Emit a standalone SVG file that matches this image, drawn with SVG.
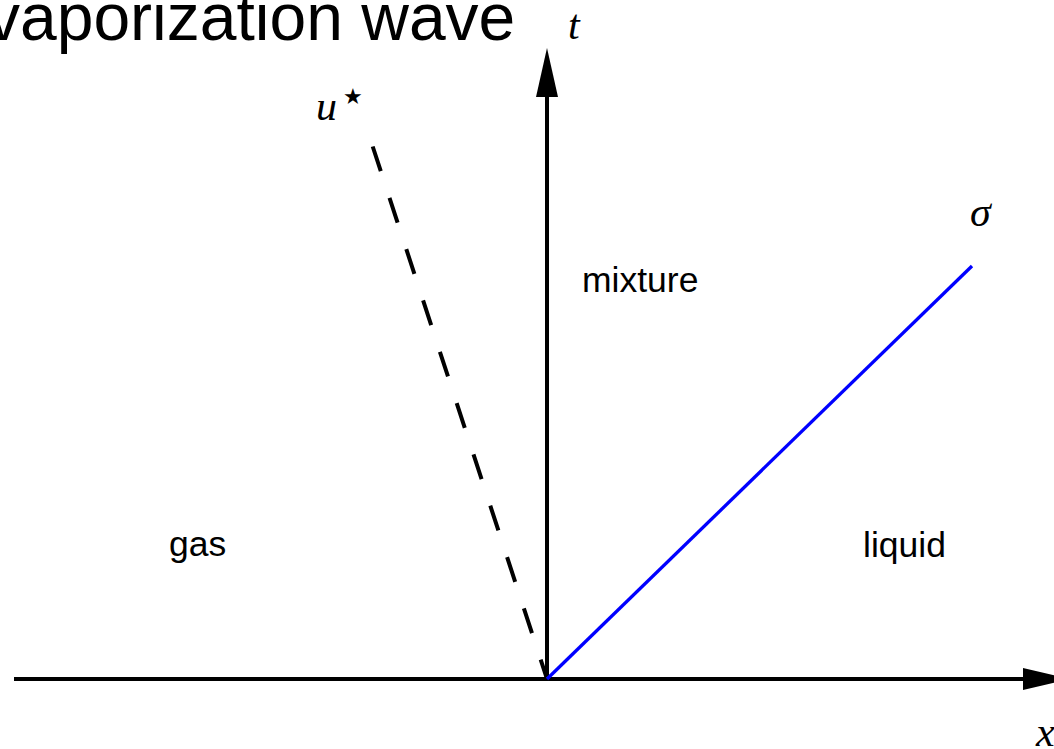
<svg xmlns="http://www.w3.org/2000/svg" width="1054" height="749" viewBox="0 0 1054 749">
<style>
.lbl{font-family:"Liberation Sans",Arial,sans-serif;font-size:35.5px;fill:#000}
.math{font-family:"Liberation Serif","Times New Roman",serif;font-style:italic;font-size:42px;fill:#000}
.ax{stroke:#000;stroke-width:4;fill:none}
</style>
<rect width="1054" height="749" fill="#fff"/>
<text x="-13" y="40" font-family="Liberation Sans, Arial, sans-serif" font-size="66" fill="#000">vaporization wave</text>
<g id="axes">
<line class="ax" x1="14" y1="679" x2="1025" y2="679"/>
<polygon points="1023,668 1023,690 1070,679" fill="#000"/>
<line class="ax" x1="547" y1="679" x2="547" y2="95"/>
<polygon points="536,97 558,97 547,48" fill="#000"/>
</g>
<g id="connectors">
<line x1="372.7" y1="146.5" x2="547" y2="679" stroke="#000" stroke-width="4" stroke-dasharray="26 28"/>
<line x1="547" y1="679" x2="972" y2="266" stroke="#0000ff" stroke-width="3.3"/>
</g>
<g id="labels">
<text class="math" x="568" y="39">t</text>
<text class="math" x="316" y="120">u</text>
<text x="343" y="104" font-family="DejaVu Sans, sans-serif" font-size="22" fill="#000">★</text>
<text class="math" x="970" y="226">σ</text>
<text class="math" x="1036" y="746">x</text>
<text class="lbl" x="582" y="292">mixture</text>
<text class="lbl" x="169" y="556">gas</text>
<text class="lbl" x="863" y="557">liquid</text>
</g>
</svg>
